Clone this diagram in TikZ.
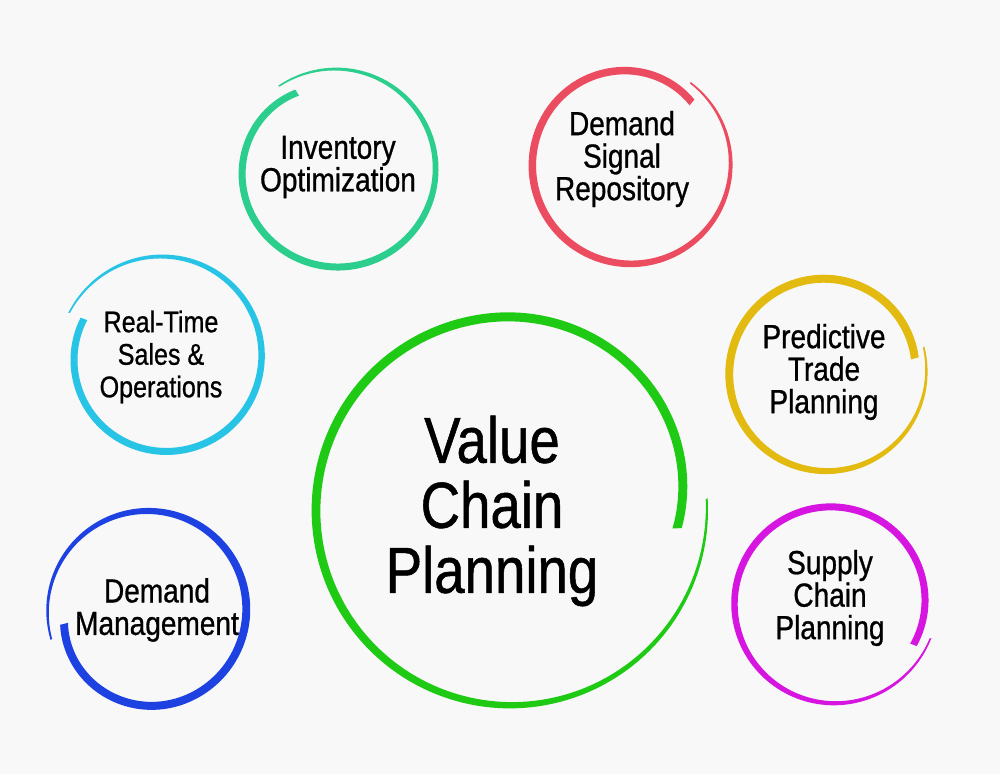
\documentclass[tikz,border=0pt]{standalone}
\usepackage{fontspec}
\setmainfont{Liberation Sans}
\newfontfamily\narrowsans{Liberation Sans}[FakeStretch=0.84, FakeBold=0.8]
\usepackage{tikz}

\definecolor{paper}{RGB}{248,248,248}
\definecolor{invgreen}{RGB}{44,206,142}
\definecolor{dsrred}{RGB}{236,76,96}
\definecolor{rtscyan}{RGB}{40,196,230}
\definecolor{ptpgold}{RGB}{226,186,16}
\definecolor{scpmagenta}{RGB}{214,22,224}
\definecolor{demblue}{RGB}{30,66,226}
\definecolor{vcpgreen}{RGB}{30,202,20}

% brush ring: cx, cy, radius, tail angle, end angle, width, flare, curl, colour
\newcommand{\brushring}[9]{%
  \fill[#9] plot[smooth, samples=120, domain=0:1, variable=\s]
    ({#1+(ringr(\s,#3,#7,#8)+ringw(\s,#6)/2)*cos((#4)+((#5)-(#4))*\s)},
     {#2+(ringr(\s,#3,#7,#8)+ringw(\s,#6)/2)*sin((#4)+((#5)-(#4))*\s)})
    -- plot[smooth, samples=120, domain=1:0, variable=\s]
    ({#1+(ringr(\s,#3,#7,#8)-ringw(\s,#6)/2)*cos((#4)+((#5)-(#4))*\s)},
     {#2+(ringr(\s,#3,#7,#8)-ringw(\s,#6)/2)*sin((#4)+((#5)-(#4))*\s)})
    -- cycle;}

\begin{document}
\begin{tikzpicture}[
    x=0.02cm, y=0.02cm,
    declare function={
      ringr(\ringS,\ringR,\ringF,\ringC)=\ringR+\ringF*(1-\ringS)^2-\ringC*(max(0,(\ringS-0.72)/0.28))^2;
      ringw(\ringS,\ringW)=\ringW*(0.22+0.78*sin(min(\ringS,0.6)*150));
    },
    ringtext/.style={align=center, text=black, font=\narrowsans\fontsize{19}{18.5}\selectfont},
    hubtext/.style={align=center, text=black, font=\narrowsans\fontsize{37}{37}\selectfont}
]
    \fill[paper] (0,0) rectangle (1000,774);
    \useasboundingbox (0,0) rectangle (1000,774);

    \brushring{337}{604}{96}{125}{-243}{7}{6}{9}{invgreen}
    \brushring{630}{609}{97}{54}{-315}{7.5}{5}{9}{dsrred}
    \brushring{165}{416}{92}{155}{-206}{7}{14}{2}{rtscyan}
    \brushring{825}{401}{94}{15}{-351}{8}{8}{3}{ptpgold}
    \brushring{832}{172}{94}{-20}{-388}{7}{11}{2}{scpmagenta}
    \brushring{149}{164}{96}{197}{-171}{8}{6}{10}{demblue}
    \brushring{510}{264}{193}{3.5}{-366.5}{9}{4}{25}{vcpgreen}

    \node [ringtext] (inv) at (338,607) {Inventory\\Optimization};
    \node [ringtext] (dsr) at (622,615) {Demand\\Signal\\Repository};
    \node [ringtext, font=\narrowsans\fontsize{17}{18.5}\selectfont] (rts) at (161,417) {Real-Time\\Sales \&\\Operations};
    \node [ringtext] (ptp) at (824,402) {Predictive\\Trade\\Planning};
    \node [ringtext] (scp) at (830,176) {Supply\\Chain\\Planning};
    \node [ringtext] (dem) at (157,164) {Demand\\Management};
    \node [hubtext] (vcp) at (492,263) {Value\\Chain\\Planning};
\end{tikzpicture}
\end{document}
